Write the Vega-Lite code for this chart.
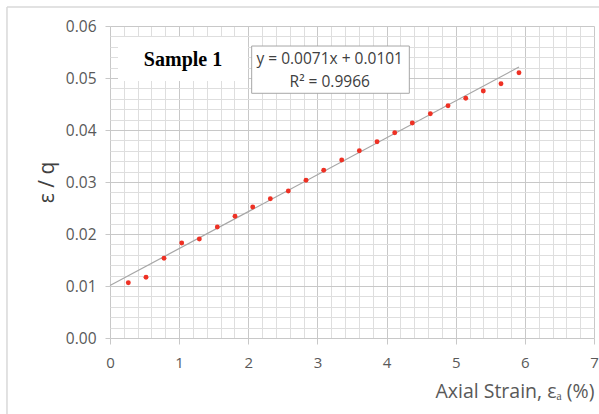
{
  "$schema": "https://vega.github.io/schema/vega-lite/v6.json",
  "width": 484,
  "height": 312,
  "autosize": {"type": "none"},
  "padding": {"left": 110, "top": 26, "right": 5, "bottom": 76},
  "background": "white",
  "config": {
    "view": {"stroke": null},
    "font": "Open Sans",
    "axis": {"labelOverlap": false, "labelFlush": false}
  },
  "datasets": {
    "measured": [
      {"strain": 0.265, "ratio": 0.01063},
      {"strain": 0.521, "ratio": 0.01167},
      {"strain": 0.781, "ratio": 0.01533},
      {"strain": 1.037, "ratio": 0.01827},
      {"strain": 1.292, "ratio": 0.01904},
      {"strain": 1.552, "ratio": 0.02135},
      {"strain": 1.808, "ratio": 0.0234},
      {"strain": 2.064, "ratio": 0.02519},
      {"strain": 2.319, "ratio": 0.02679},
      {"strain": 2.579, "ratio": 0.02827},
      {"strain": 2.835, "ratio": 0.03033},
      {"strain": 3.091, "ratio": 0.03225},
      {"strain": 3.351, "ratio": 0.03423},
      {"strain": 3.606, "ratio": 0.03602},
      {"strain": 3.862, "ratio": 0.03775},
      {"strain": 4.118, "ratio": 0.03948},
      {"strain": 4.372, "ratio": 0.04135},
      {"strain": 4.633, "ratio": 0.04313},
      {"strain": 4.889, "ratio": 0.04467},
      {"strain": 5.145, "ratio": 0.0461},
      {"strain": 5.399, "ratio": 0.0475},
      {"strain": 5.655, "ratio": 0.0489},
      {"strain": 5.915, "ratio": 0.05102}
    ],
    "trendline": [
      {"strain": 0, "ratio": 0.0101},
      {"strain": 5.915, "ratio": 0.0521}
    ]
  },
  "layer": [
    {
      "data": {"values": [{}]},
      "mark": {"type": "rule", "color": "#d9d9d9", "strokeWidth": 1.5, "clip": false},
      "encoding": {
        "x": {"datum": -1.49, "type": "quantitative"},
        "y": {"datum": 0.06365, "type": "quantitative"},
        "y2": {"datum": -0.03}
      }
    },
    {
      "data": {"values": [{}]},
      "mark": {"type": "rule", "color": "#d9d9d9", "strokeWidth": 1.5, "clip": false},
      "encoding": {
        "x": {"datum": -1.49, "type": "quantitative"},
        "x2": {"datum": 7.3},
        "y": {"datum": 0.06365, "type": "quantitative"}
      }
    },
    {
      "data": {"name": "trendline"},
      "mark": {"type": "line", "color": "#a6a6a6", "strokeWidth": 1.2},
      "encoding": {
        "x": {"field": "strain", "type": "quantitative", "title": "Axial Strain, εₐ (%)"},
        "y": {"field": "ratio", "type": "quantitative", "title": "ε / q"}
      }
    },
    {
      "data": {"name": "measured"},
      "mark": {"type": "point", "filled": true, "shape": "circle", "size": 24, "color": "#ee3124", "opacity": 1},
      "encoding": {
        "x": {
          "field": "strain",
          "type": "quantitative",
          "title": "Axial Strain, εₐ (%)",
          "scale": {"domain": [0, 7], "nice": false, "zero": false},
          "axis": {
            "values": [0, 0.2, 0.4, 0.6, 0.8, 1, 1.2, 1.4, 1.6, 1.8, 2, 2.2, 2.4, 2.6, 2.8, 3, 3.2, 3.4, 3.6, 3.8, 4, 4.2, 4.4, 4.6, 4.8, 5, 5.2, 5.4, 5.6, 5.8, 6, 6.2, 6.4, 6.6, 6.8, 7],
            "tickCount": 200,
            "labelExpr": "datum.value % 1 === 0 ? format(datum.value, 'd') : ''",
            "labelOverlap": false,
            "labelFlush": false,
            "labelFont": "Open Sans",
            "labelFontSize": {"condition": {"test": "datum.value % 1 === 0", "value": 15}, "value": 0},
            "labelColor": "#595959",
            "labelPadding": 11,
            "domain": false,
            "grid": true,
            "gridColor": {"condition": {"test": "datum.value % 1 === 0", "value": "#c8c8c8"}, "value": "#dedede"},
            "gridWidth": 1,
            "ticks": true,
            "tickSize": 6,
            "tickColor": "#c8c8c8",
            "tickOpacity": {"condition": {"test": "datum.value % 1 === 0", "value": 1}, "value": 0},
            "titleFont": "Open Sans",
            "titleFontSize": 19.5,
            "titleFontWeight": "normal",
            "titleColor": "#595959",
            "titleAnchor": "end",
            "titlePadding": 12
          }
        },
        "y": {
          "field": "ratio",
          "type": "quantitative",
          "title": "ε / q",
          "scale": {"domain": [0, 0.06], "nice": false, "zero": true},
          "axis": {
            "values": [0, 0.002, 0.004, 0.006, 0.008, 0.01, 0.012, 0.014, 0.016, 0.018, 0.02, 0.022, 0.024, 0.026, 0.028, 0.03, 0.032, 0.034, 0.036, 0.038, 0.04, 0.042, 0.044, 0.046, 0.048, 0.05, 0.052, 0.054, 0.056, 0.058, 0.06],
            "tickCount": 200,
            "labelExpr": "abs(datum.value * 100 - round(datum.value * 100)) < 1e-6 ? format(datum.value, '.2f') : ''",
            "labelOverlap": false,
            "labelFlush": false,
            "labelFont": "Open Sans",
            "labelFontSize": {"condition": {"test": "abs(datum.value * 100 - round(datum.value * 100)) < 1e-6", "value": 15.5}, "value": 0},
            "labelColor": "#595959",
            "labelPadding": 9,
            "domain": false,
            "grid": true,
            "gridColor": {"condition": {"test": "abs(datum.value * 100 - round(datum.value * 100)) < 1e-6", "value": "#c8c8c8"}, "value": "#dedede"},
            "gridWidth": 1,
            "ticks": true,
            "tickSize": 5,
            "tickColor": "#c8c8c8",
            "tickOpacity": {"condition": {"test": "abs(datum.value * 100 - round(datum.value * 100)) < 1e-6", "value": 1}, "value": 0},
            "titleFont": "Open Sans",
            "titleFontSize": 21,
            "titleFontWeight": "normal",
            "titleColor": "#404040",
            "titlePadding": 8
          }
        }
      }
    },
    {
      "data": {"values": [{}]},
      "mark": {"type": "rect", "fill": "white", "stroke": null},
      "encoding": {
        "x": {"datum": 0.116, "type": "quantitative"},
        "x2": {"datum": 1.996},
        "y": {"datum": 0.05788, "type": "quantitative"},
        "y2": {"datum": 0.04942}
      }
    },
    {
      "data": {"values": [{}]},
      "mark": {"type": "rect", "fill": "white", "stroke": "#a6a6a6", "strokeWidth": 1},
      "encoding": {
        "x": {"datum": 2.049, "type": "quantitative"},
        "x2": {"datum": 4.329},
        "y": {"datum": 0.05615, "type": "quantitative"},
        "y2": {"datum": 0.04706}
      }
    },
    {
      "data": {"values": [{}]},
      "mark": {"type": "text", "text": "Sample 1", "font": "Liberation Serif", "fontWeight": "bold", "fontSize": 20, "color": "black", "align": "center", "baseline": "middle"},
      "encoding": {
        "x": {"datum": 1.056, "type": "quantitative"},
        "y": {"datum": 0.05346, "type": "quantitative"}
      }
    },
    {
      "data": {"values": [{}]},
      "mark": {"type": "text", "text": "y = 0.0071x + 0.0101", "font": "Open Sans", "fontSize": 15.5, "color": "#404040", "align": "center", "baseline": "middle"},
      "encoding": {
        "x": {"datum": 3.178, "type": "quantitative"},
        "y": {"datum": 0.05365, "type": "quantitative"}
      }
    },
    {
      "data": {"values": [{}]},
      "mark": {"type": "text", "text": "R² = 0.9966", "font": "Open Sans", "fontSize": 15.5, "color": "#404040", "align": "center", "baseline": "middle"},
      "encoding": {
        "x": {"datum": 3.178, "type": "quantitative"},
        "y": {"datum": 0.04923, "type": "quantitative"}
      }
    }
  ]
}
